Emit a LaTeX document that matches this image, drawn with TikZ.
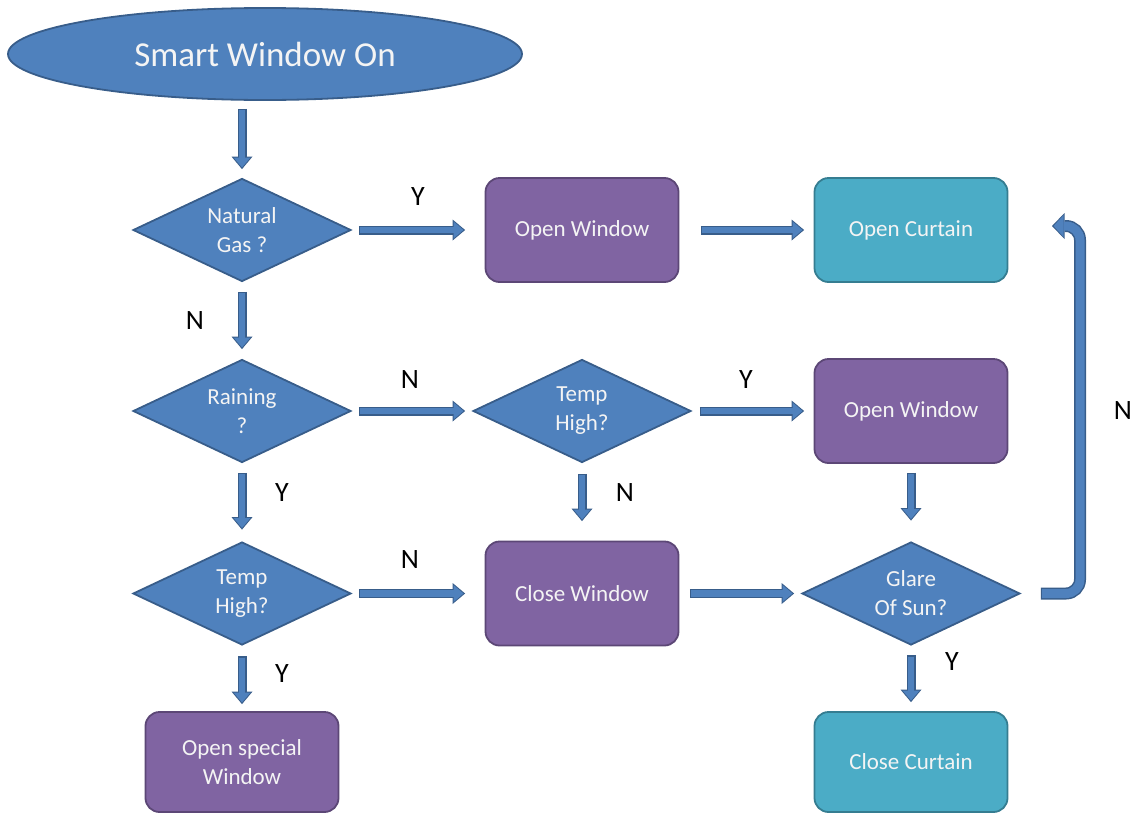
\documentclass[tikz,border=0pt]{standalone}
\usepackage{fontspec}
\setmainfont{Carlito}
\usetikzlibrary{shapes.geometric,arrows.meta}
\definecolor{bfill}{HTML}{4F81BD}
\definecolor{bline}{HTML}{385D8A}
\definecolor{pfill}{HTML}{8064A2}
\definecolor{pline}{HTML}{5C4776}
\definecolor{cfill}{HTML}{4BACC6}
\definecolor{cline}{HTML}{357D91}
\definecolor{txt}{HTML}{F4F4F4}
\tikzset{
  base/.style={text=txt, font=\fontsize{23pt}{29pt}\selectfont, align=center, inner sep=0pt, line width=1.8pt},
  ell/.style={base, ellipse, fill=bfill, draw=bline, minimum width=514pt, minimum height=92pt, font=\fontsize{35pt}{40pt}\selectfont},
  dia/.style={base, diamond, aspect=2.12, fill=bfill, draw=bline, minimum width=218pt, minimum height=103pt},
  pbox/.style={base, rectangle, rounded corners=14pt, fill=pfill, draw=pline, minimum width=193pt, minimum height=104pt},
  cbox/.style={base, rectangle, rounded corners=14pt, fill=cfill, draw=cline, minimum width=193pt, minimum height=104pt},
  lbl/.style={font=\fontsize{28pt}{30pt}\selectfont, text=black, inner sep=0pt},
  conn/.style={line width=6.5pt, draw=bfill, -{Triangle[length=10pt,width=17pt,line width=0pt]},
    shorten >=1.6pt, shorten <=1.3pt,
    preaction={draw=bline, line width=9pt, -{Triangle[length=12.5pt,width=21pt,line width=0pt]}, shorten >=0pt, shorten <=0pt}},
  bconn/.style={line width=9pt, draw=bfill, rounded corners=14pt, -{Triangle[length=10pt,width=22pt,line width=0pt]},
    shorten >=1.6pt, shorten <=1.3pt,
    preaction={draw=bline, line width=12pt, -{Triangle[length=12.5pt,width=26pt,line width=0pt]}, shorten >=0pt, shorten <=0pt}}
}
\begin{document}
\begin{tikzpicture}[x=1pt,y=-1pt]
\useasboundingbox (0,0) rectangle (1135,814);
% nodes
\node[ell] (start) at (265,54) {Smart Window On};
\node[dia] (d1) at (242,230) {Natural\\Gas ?};
\node[dia] (d2) at (242,411) {Raining\\?};
\node[dia] (d3) at (582,411) {Temp\\High?};
\node[dia] (d4) at (242,593.5) {Temp\\High?};
\node[dia] (d5) at (911,593.5) {Glare\\Of Sun?};
\node[pbox] (b1) at (582,230) {Open Window};
\node[cbox] (b2) at (911,230) {Open Curtain};
\node[pbox] (b3) at (911,411) {Open Window};
\node[pbox] (b4) at (582,593.5) {Close Window};
\node[cbox, minimum height=100pt] (b5) at (911,762) {Close Curtain};
\node[pbox, minimum height=100pt] (b6) at (242,762) {Open special\\Window};
\coordinate (nret) at (1052,226);
% connectors
\draw[conn] ([yshift=-8pt]start.south -| d1.north) -- ([yshift=8.5pt]d1.north);
\draw[conn] ([xshift=7pt]d1.east) -- ([xshift=-19.5pt]b1.west);
\draw[conn] ([xshift=21.5pt]b1.east) -- ([xshift=-9.5pt]b2.west);
\draw[conn] ([yshift=-9.5pt]d1.south) -- ([yshift=9.5pt]d2.north);
\draw[conn] ([xshift=7pt]d2.east) -- ([xshift=-7pt]d3.west);
\draw[conn] ([xshift=8pt]d3.east) -- ([xshift=-9.5pt]b3.west);
\draw[conn] ([yshift=-10.5pt]d3.south) -- ([yshift=19.5pt]b4.north);
\draw[conn] ([yshift=-9.5pt]d2.south) -- ([yshift=11.5pt]d4.north);
\draw[conn] ([yshift=-9pt]b3.south) -- ([yshift=20.5pt]d5.north);
\draw[conn] ([xshift=7pt]d4.east) -- ([xshift=-19.5pt]b4.west);
\draw[conn] ([xshift=10.5pt]b4.east) -- ([xshift=-7pt]d5.west);
\draw[conn] ([yshift=-10.5pt]d4.south) -- ([yshift=7pt]b6.north);
\draw[conn] ([yshift=-9.5pt]d5.south) -- ([yshift=9pt]b5.north);
\draw[bconn] ([xshift=20pt]d5.east) -| ([xshift=28pt]nret) -- (nret);
% labels
\node[lbl] (l1) at (418,197) {Y};
\node[lbl] (l2) at (195,321) {N};
\node[lbl] (l3) at (410,380) {N};
\node[lbl] (l4) at (746,380) {Y};
\node[lbl] (l5) at (625,493) {N};
\node[lbl] (l6) at (282,493) {Y};
\node[lbl] (l7) at (410,560) {N};
\node[lbl] (l8) at (282,674) {Y};
\node[lbl] (l9) at (952,662) {Y};
\node[lbl] (l10) at (1123,411) {N};
\end{tikzpicture}
\end{document}
